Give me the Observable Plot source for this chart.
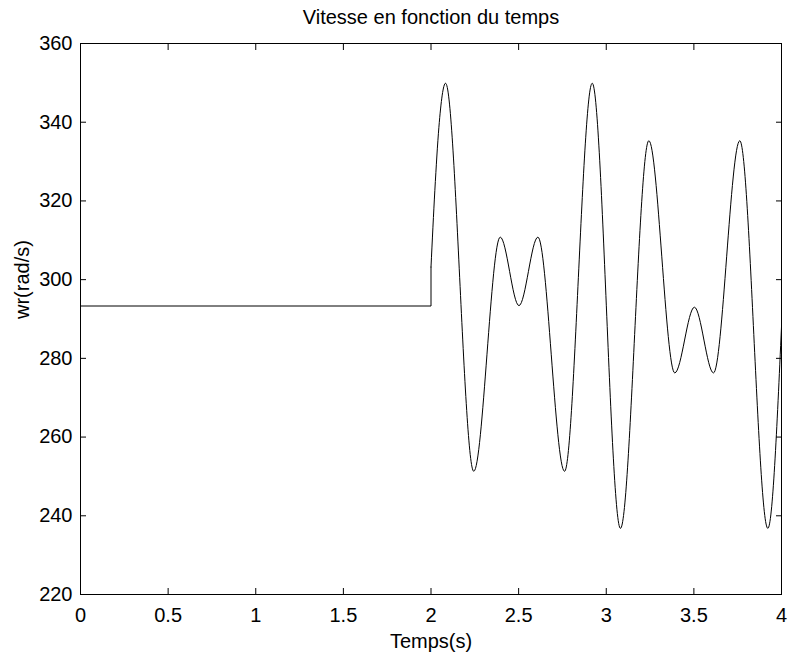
<!DOCTYPE html>
<html>
<head>
<meta charset="utf-8">
<script src="https://cdn.jsdelivr.net/npm/d3@7"></script>
<script src="https://cdn.jsdelivr.net/npm/@observablehq/plot@0.6"></script>
<style>
  html, body { margin: 0; padding: 0; background: #fff; }
  #chart { width: 790px; height: 657px; }
</style>
</head>
<body>
<div id="chart"></div>
<script>
// ---- data ----
const titleText = "Vitesse en fonction du temps";
const xLabel = "Temps(s)";
const yLabel = "wr(rad/s)";

const xTicks = [0, 0.5, 1, 1.5, 2, 2.5, 3, 3.5, 4];
const yTicks = [220, 240, 260, 280, 300, 320, 340, 360];

// constant speed, then the step at t = 2 s
const stepTime  = [0, 2, 2];
const stepSpeed = [293.3, 293.3, 303.2];

// oscillation after t = 2 s (extremes and a few read points)
const oscTime  = [2.000, 2.022, 2.045, 2.083, 2.244, 2.395, 2.502, 2.610, 2.762, 2.920,
                  3.081, 3.243, 3.391, 3.503, 3.612, 3.762, 3.922, 4.000];
const oscSpeed = [303.2, 322.7, 338.7, 349.9, 251.3, 310.8, 293.4, 310.8, 251.3, 349.9,
                  236.8, 335.3, 276.3, 293.0, 276.3, 335.3, 236.8, 288.0];

const stepData = stepTime.map((t, i) => ({t, v: stepSpeed[i]}));
const oscData = oscTime.map((t, i) => ({t, v: oscSpeed[i]}));

const fmt = d => String(d);

const chart = Plot.plot({
  width: 790,
  height: 657,
  marginLeft: 80,
  marginRight: 9,
  marginTop: 43,
  marginBottom: 63,
  style: {fontFamily: "'Liberation Sans', Arial, sans-serif", fontSize: "20px", color: "#000", background: "#fff"},
  x: {domain: [0, 4], axis: null},
  y: {domain: [220, 360], axis: null},
  marks: [
    Plot.frame({stroke: "#000", strokeWidth: 1}),
    Plot.axisX({anchor: "bottom", ticks: xTicks, tickSize: -6, tickPadding: 19, tickFormat: fmt, label: null, stroke: "#000"}),
    Plot.axisX({anchor: "top", ticks: xTicks, tickSize: -6, tickFormat: () => "", label: null, stroke: "#000"}),
    Plot.axisY({anchor: "left", ticks: yTicks, tickSize: -6, tickPadding: 14, tickFormat: fmt, label: null, stroke: "#000"}),
    Plot.axisY({anchor: "right", ticks: yTicks, tickSize: -6, tickFormat: () => "", label: null, stroke: "#000"}),
    Plot.line(stepData, {x: "t", y: "v", stroke: "#000", strokeWidth: 1}),
    Plot.line(oscData, {x: "t", y: "v", curve: "monotone-x", stroke: "#000", strokeWidth: 1}),
    Plot.text([titleText], {frameAnchor: "top", dy: -26, lineAnchor: "middle", fill: "#000"}),
    Plot.text([xLabel], {frameAnchor: "bottom", dy: 47, lineAnchor: "middle", fill: "#000"}),
    Plot.text([yLabel], {frameAnchor: "left", dx: -58, rotate: -90, lineAnchor: "middle", fill: "#000"})
  ]
});
document.getElementById("chart").appendChild(chart);
</script>
</body>
</html>
